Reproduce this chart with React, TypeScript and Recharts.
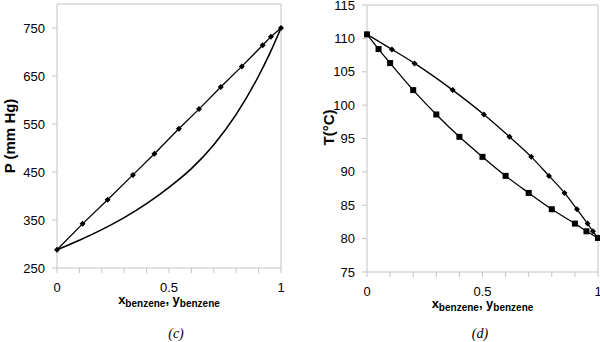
import { Line, LineChart, ReferenceLine, XAxis, YAxis } from "recharts"

// (c) P-x-y, benzene / toluene
const liquidX = [0, 0.114, 0.226, 0.339, 0.435, 0.544, 0.634, 0.731, 0.825, 0.918, 0.955, 1]
const liquidP = [288, 342, 392, 444, 488, 540, 581, 627, 670, 714, 732, 750]
const vaporY = [0, 0.1, 0.2, 0.3, 0.4, 0.5, 0.6, 0.7, 0.8, 0.9, 0.95, 1]
const vaporP = [288, 308, 330, 355, 384, 418, 457, 507, 570, 650, 697, 750]
const pTicks = [250, 350, 450, 550, 650, 750]

// (d) T-x-y, benzene / toluene
const bubbleX = [0, 0.05, 0.1, 0.2, 0.3, 0.4, 0.5, 0.6, 0.7, 0.8, 0.9, 0.95, 1]
const bubbleT = [110.6, 108.4, 106.3, 102.25, 98.6, 95.25, 92.25, 89.4, 86.85, 84.4, 82.25, 81.1, 80.1]
const dewY = [0, 0.108, 0.206, 0.371, 0.506, 0.617, 0.711, 0.788, 0.855, 0.909, 0.955, 0.978, 1]
const dewT = [110.6, 108.35, 106.25, 102.25, 98.6, 95.25, 92.25, 89.4, 86.85, 84.4, 82.25, 81.1, 80.1]
const tTicks = [75, 80, 85, 90, 95, 100, 105, 110, 115]

const xTicks = [0, 0.1, 0.2, 0.3, 0.4, 0.5, 0.6, 0.7, 0.8, 0.9, 1]

const FRAME = "#c4c4c4"
const FONT = "Arial, 'Liberation Sans', sans-serif"

const toRows = (xs: number[], vs: number[]) => xs.map((x, i) => ({ x, v: vs[i] }))

const xLabel = (v: number) => (v === 0 || v === 0.5 || v === 1 ? String(v) : "")

function diamond(r: number) {
  return (p: any) => {
    const { cx, cy, index } = p
    if (cx == null || cy == null) return <g key={index} />
    return (
      <path
        key={index}
        d={`M${cx},${cy - r}L${cx + r},${cy}L${cx},${cy + r}L${cx - r},${cy}Z`}
        fill="#000"
      />
    )
  }
}

function square(s: number) {
  return (p: any) => {
    const { cx, cy, index } = p
    if (cx == null || cy == null) return <g key={index} />
    return <rect key={index} x={cx - s / 2} y={cy - s / 2} width={s} height={s} fill="#000" />
  }
}

function xTitle(props: any) {
  const vb = props.viewBox || { x: 0, y: 0, width: 0 }
  const cx = vb.x + vb.width / 2
  return (
    <text x={cx} y={vb.y + 36} textAnchor="middle" fontFamily={FONT} fontWeight="bold" fontSize={13} fill="#000">
      <tspan>x</tspan>
      <tspan dy={3} fontSize={10}>benzene</tspan>
      <tspan dy={-3}>, y</tspan>
      <tspan dy={3} fontSize={10}>benzene</tspan>
    </text>
  )
}

function yTitle(text: string, dx: number, dy: number) {
  return (props: any) => {
    const vb = props.viewBox || { x: 0, y: 0, height: 0 }
    const x = vb.x + dx
    const y = vb.y + vb.height / 2 + dy
    return (
      <text
        x={x}
        y={y}
        transform={`rotate(-90 ${x} ${y})`}
        textAnchor="middle"
        dominantBaseline="central"
        fontFamily={FONT}
        fontWeight="bold"
        fontSize={15}
        fill="#000"
      >
        {text}
      </text>
    )
  }
}

const tickStyle = { fill: "#000", fontSize: 13, fontFamily: FONT }

function PressureChart() {
  return (
    <LineChart width={300} height={342} margin={{ top: 4, right: 19, left: 0, bottom: 0 }}>
      <XAxis
        type="number"
        dataKey="x"
        domain={[0, 1]}
        ticks={xTicks}
        interval={0}
        tickFormatter={xLabel}
        height={74}
        tickSize={5}
        tickMargin={10}
        tick={tickStyle}
        stroke={FRAME}
        label={xTitle}
      />
      <YAxis
        type="number"
        domain={[250, 800]}
        ticks={pTicks}
        interval={0}
        width={57}
        tickSize={5}
        tickMargin={7}
        tick={tickStyle}
        stroke={FRAME}
        label={yTitle("P (mm Hg)", 9, 0)}
      />
      <ReferenceLine y={800} stroke={FRAME} />
      <ReferenceLine x={1} stroke={FRAME} />
      <Line
        data={toRows(vaporY, vaporP)}
        dataKey="v"
        type="monotone"
        stroke="#000"
        strokeWidth={1.6}
        dot={false}
        isAnimationActive={false}
      />
      <Line
        data={toRows(liquidX, liquidP)}
        dataKey="v"
        type="linear"
        stroke="#000"
        strokeWidth={1.3}
        dot={diamond(3)}
        isAnimationActive={false}
      />
    </LineChart>
  )
}

function TemperatureChart() {
  return (
    <LineChart width={300} height={342} margin={{ top: 5, right: 2, left: 0, bottom: 0 }}>
      <XAxis
        type="number"
        dataKey="x"
        domain={[0, 1]}
        ticks={xTicks}
        interval={0}
        tickFormatter={xLabel}
        height={70}
        tickSize={5}
        tickMargin={10}
        tick={tickStyle}
        stroke={FRAME}
        label={xTitle}
      />
      <YAxis
        type="number"
        domain={[75, 115]}
        ticks={tTicks}
        interval={0}
        width={67}
        tickSize={5}
        tickMargin={7}
        tick={tickStyle}
        stroke={FRAME}
        label={yTitle("T(°C)", 28, -11)}
      />
      <ReferenceLine y={115} stroke={FRAME} />
      <ReferenceLine x={1} stroke={FRAME} />
      <Line
        data={toRows(dewY, dewT)}
        dataKey="v"
        type="monotone"
        stroke="#000"
        strokeWidth={1.3}
        dot={diamond(3)}
        isAnimationActive={false}
      />
      <Line
        data={toRows(bubbleX, bubbleT)}
        dataKey="v"
        type="monotone"
        stroke="#000"
        strokeWidth={1.3}
        dot={square(6)}
        isAnimationActive={false}
      />
    </LineChart>
  )
}

const caption = {
  position: "absolute" as const,
  top: 326,
  width: 40,
  textAlign: "center" as const,
  fontFamily: "'Liberation Serif', 'Times New Roman', serif",
  fontStyle: "italic",
  fontSize: 14,
  color: "#000",
}

export default function App() {
  return (
    <div style={{ position: "absolute", left: 0, top: 0, width: 600, height: 342, background: "#fff", overflow: "hidden" }}>
      <div style={{ position: "absolute", left: 0, top: 0 }}>
        <PressureChart />
      </div>
      <div style={{ position: "absolute", left: 300, top: 0 }}>
        <TemperatureChart />
      </div>
      <div style={{ ...caption, left: 156 }}>(c)</div>
      <div style={{ ...caption, left: 460 }}>(d)</div>
    </div>
  )
}
